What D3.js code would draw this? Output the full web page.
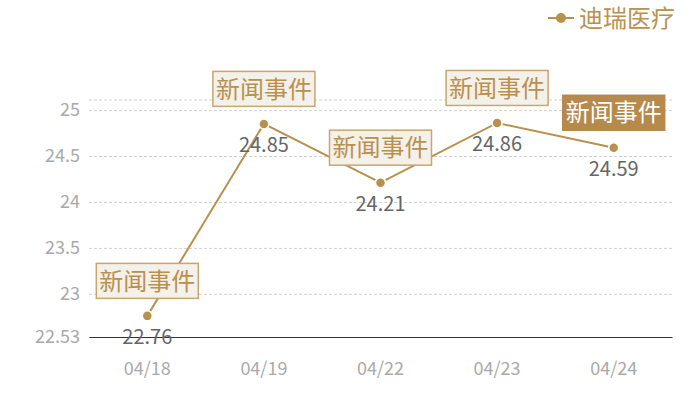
<!DOCTYPE html>
<html>
<head>
<meta charset="utf-8">
<script src="https://cdn.jsdelivr.net/npm/d3@7"></script>
<style>
  body { margin: 0; background: #fff; }
  text { font-family: "Noto Sans CJK SC", "Noto Sans", sans-serif; }
</style>
</head>
<body>
<svg width="700" height="400"></svg>
<script>
const dates = ['04/18', '04/19', '04/22', '04/23', '04/24'];
const prices = [22.76, 24.85, 24.21, 24.86, 24.59];
const yTicks = [22.53, 23, 23.5, 24, 24.5, 25];
const newsLabels = ['新闻事件', '新闻事件', '新闻事件', '新闻事件', '新闻事件'];
const highlighted = [false, false, false, false, true];
const seriesName = '迪瑞医疗';

const svg = d3.select('svg');
const width = +svg.attr('width');
const height = +svg.attr('height');

const margin = {top: 100, right: 28, bottom: 63, left: 89};
const innerWidth = width - margin.left - margin.right;
const innerHeight = height - margin.top - margin.bottom;

const gold = '#b8914f';
const data = dates.map((d, i) => ({date: d, value: prices[i], label: newsLabels[i], hi: highlighted[i]}));

const xScale = d3.scaleBand()
  .domain(dates)
  .range([0, innerWidth]);

const yScale = d3.scaleLinear()
  .domain([22.53, 25.11])
  .range([innerHeight, 0]);

const xPos = d => xScale(d) + xScale.bandwidth() / 2;

const g = svg.append('g')
  .attr('transform', `translate(${margin.left},${margin.top})`);

// grid + y labels
const yAxis = d3.axisLeft(yScale)
  .tickValues(yTicks)
  .tickFormat(d => String(d))
  .tickSize(-innerWidth)
  .tickPadding(9);

const yAxisG = g.append('g').call(yAxis);
yAxisG.select('.domain').remove();
yAxisG.selectAll('.tick line')
  .attr('stroke', '#d0d0d0')
  .attr('stroke-dasharray', '3,2');
yAxisG.selectAll('.tick text')
  .attr('fill', '#a9a9a9')
  .style('font-size', '18px');

// top border line
g.append('line')
  .attr('x1', 0).attr('x2', innerWidth)
  .attr('y1', 0).attr('y2', 0)
  .attr('stroke', '#d0d0d0')
  .attr('stroke-dasharray', '3,2');

// x axis
const xAxis = d3.axisBottom(xScale)
  .tickSize(0)
  .tickPadding(25);

const xAxisG = g.append('g').call(xAxis)
  .attr('transform', `translate(0,${innerHeight})`);
xAxisG.select('.domain').attr('stroke', '#333').attr('stroke-width', 1.2);
xAxisG.selectAll('.tick text')
  .attr('fill', '#a9a9a9')
  .style('font-size', '18px');

// line
const line = d3.line()
  .x(d => xPos(d.date))
  .y(d => yScale(d.value));

g.append('path')
  .datum(data)
  .attr('fill', 'none')
  .attr('stroke', gold)
  .attr('stroke-width', 2)
  .attr('d', line);

g.selectAll('circle.pt').data(data)
  .enter().append('circle')
    .attr('class', 'pt')
    .attr('cx', d => xPos(d.date))
    .attr('cy', d => yScale(d.value))
    .attr('r', 5)
    .attr('fill', gold)
    .attr('stroke', '#fff')
    .attr('stroke-width', 1.5);

// value labels
g.selectAll('text.val').data(data)
  .enter().append('text')
    .attr('class', 'val')
    .attr('x', d => xPos(d.date))
    .attr('y', d => yScale(d.value) + 21)
    .attr('dy', '0.35em')
    .attr('text-anchor', 'middle')
    .attr('fill', '#666')
    .style('font-size', '20px')
    .text(d => d.value.toFixed(2));

// news boxes
const news = g.selectAll('g.news').data(data)
  .enter().append('g')
    .attr('class', 'news')
    .attr('transform', d => `translate(${xPos(d.date)},${yScale(d.value) - 35})`);

const boxW = 102, boxH = 35;
news.append('rect')
  .attr('x', -boxW / 2)
  .attr('y', -boxH / 2)
  .attr('width', boxW)
  .attr('height', boxH)
  .attr('fill', d => d.hi ? '#b58a4c' : '#f4f0ea')
  .attr('stroke', d => d.hi ? '#b58a4c' : '#c9a56f')
  .attr('stroke-width', 1.5);

news.append('text')
  .attr('text-anchor', 'middle')
  .attr('dy', '0.36em')
  .attr('fill', d => d.hi ? '#fff' : gold)
  .style('font-size', '24px')
  .text(d => d.label);

// legend
const legend = svg.append('g')
  .attr('transform', 'translate(548,18)');
legend.append('line')
  .attr('x1', 0).attr('x2', 26)
  .attr('stroke', gold)
  .attr('stroke-width', 2);
legend.append('circle')
  .attr('cx', 13)
  .attr('r', 5)
  .attr('fill', gold);
legend.append('text')
  .attr('x', 31)
  .attr('dy', '0.36em')
  .attr('fill', gold)
  .style('font-size', '24px')
  .text(seriesName);
</script>
</body>
</html>
